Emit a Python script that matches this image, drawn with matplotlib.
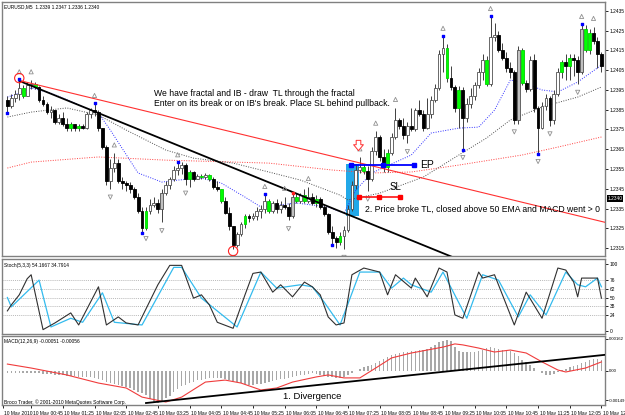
import numpy as np
import matplotlib
matplotlib.use("Agg")
import matplotlib.pyplot as plt
import matplotlib.transforms as mtransforms
from matplotlib.patches import Rectangle
from matplotlib.path import Path

plt.rcParams['font.family'] = ['Liberation Sans', 'DejaVu Sans']

# ==========================================
# DATA (EURUSD M5)
# ==========================================
first_open = 1.2390
closes = [1.2387, 1.2391, 1.2393, 1.2396, 1.2392, 1.23975, 1.2398, 1.23965, 1.2390, 1.2388,
          1.2384, 1.2385, 1.2379, 1.2381, 1.2378, 1.2376, 1.2378, 1.2376, 1.2377, 1.2376,
          1.2383, 1.2385, 1.2384, 1.2376, 1.2366, 1.2349, 1.23555, 1.2358, 1.2349, 1.2348,
          1.2347, 1.2345, 1.2341, 1.2334, 1.2325, 1.2334, 1.2337, 1.2338, 1.2335, 1.2343,
          1.2347, 1.2350, 1.23545, 1.23555, 1.2357, 1.2350, 1.23535, 1.2350, 1.23515, 1.2351,
          1.2352, 1.2350, 1.2346, 1.2345, 1.2339, 1.2333, 1.2326, 1.23165, 1.2322, 1.2327,
          1.2331, 1.2330, 1.2331, 1.2334, 1.2335, 1.2339, 1.2334, 1.2338, 1.2335, 1.2337,
          1.2336, 1.2331, 1.2341, 1.2339, 1.2342, 1.2339, 1.2341, 1.2338, 1.2340, 1.2336,
          1.2332, 1.2323, 1.2320, 1.2318, 1.2321, 1.2324, 1.2335, 1.2347, 1.23545, 1.2356,
          1.2354, 1.2350, 1.2364, 1.2371, 1.2361, 1.2356, 1.2363, 1.2371, 1.2380, 1.2377,
          1.2372, 1.2377, 1.2375, 1.2385, 1.2383, 1.2376, 1.2383, 1.2390, 1.2396, 1.2413,
          1.2416, 1.2401, 1.23965, 1.2386, 1.2395, 1.2381, 1.2388, 1.2392, 1.23975, 1.2404,
          1.2410, 1.2398, 1.2422, 1.2423, 1.2415, 1.2411, 1.2406, 1.2404, 1.2380, 1.2415,
          1.23985, 1.23955, 1.2410, 1.2386, 1.2376, 1.2387, 1.2391, 1.2380, 1.2393, 1.2404,
          1.2409, 1.2407, 1.2411, 1.2410, 1.2404, 1.2426, 1.2415, 1.2424, 1.2420, 1.2413, 1.2407]
highs = [1.2392, 1.2393, 1.2395, 1.2400, 1.23975, 1.2399, 1.2400, 1.2399, 1.2397, 1.2392,
         1.2389, 1.2387, 1.2385, 1.2383, 1.2384, 1.2381, 1.2379, 1.2378, 1.2378, 1.2378,
         1.2384, 1.2386, 1.2388, 1.2385, 1.2376, 1.2367, 1.2360, 1.2363, 1.2360, 1.2351,
         1.2349, 1.23485, 1.2346, 1.2343, 1.2336, 1.2336, 1.2340, 1.2341, 1.2340, 1.2345,
         1.2349, 1.2351, 1.23565, 1.2358, 1.23585, 1.2358, 1.23545, 1.2354, 1.23525, 1.23525,
         1.2353, 1.23525, 1.2351, 1.2349, 1.2345, 1.2341, 1.2336, 1.2326, 1.2323, 1.2328,
         1.2332, 1.2332, 1.2333, 1.2336, 1.2337, 1.2342, 1.2340, 1.2339, 1.2340, 1.2339,
         1.2341, 1.2338, 1.2343, 1.2343, 1.2343, 1.2345, 1.2346, 1.2343, 1.2342, 1.2341,
         1.2337, 1.2333, 1.2326, 1.2321, 1.2323, 1.2326, 1.2337, 1.2349, 1.23575, 1.2361,
         1.23575, 1.23565, 1.2366, 1.2374, 1.2372, 1.2365, 1.2365, 1.2373, 1.2386, 1.2381,
         1.2381, 1.2379, 1.2386, 1.2386, 1.2390, 1.2385, 1.2391, 1.2392, 1.2398, 1.2415,
         1.2422, 1.2418, 1.2407, 1.23975, 1.2397, 1.23965, 1.2391, 1.2396, 1.2399, 1.2406,
         1.2413, 1.2412, 1.2432, 1.2429, 1.2425, 1.2419, 1.2414, 1.2409, 1.2405, 1.2417,
         1.2416, 1.2400, 1.2412, 1.2413, 1.2387, 1.2389, 1.2393, 1.2392, 1.2395, 1.2406,
         1.2410, 1.2413, 1.2413, 1.2413, 1.2412, 1.2428, 1.2428, 1.2426, 1.2427, 1.2422, 1.2414]
lows = [1.2384, 1.2386, 1.2389, 1.2390, 1.2391, 1.2392, 1.23955, 1.23955, 1.2389, 1.2387,
        1.2383, 1.2381, 1.2378, 1.2378, 1.2377, 1.2374, 1.2374, 1.2374, 1.2374, 1.2375,
        1.2375, 1.2381, 1.2382, 1.2374, 1.2365, 1.2347, 1.2345, 1.23535, 1.2348, 1.2345,
        1.2344, 1.2343, 1.2340, 1.2333, 1.2323, 1.2324, 1.2332, 1.2336, 1.2333, 1.2328,
        1.2342, 1.2345, 1.2349, 1.2352, 1.23525, 1.2347, 1.2346, 1.2349, 1.2350, 1.2350,
        1.2350, 1.2349, 1.2345, 1.2344, 1.2338, 1.2332, 1.2324, 1.23145, 1.23155, 1.2321,
        1.2325, 1.2328, 1.2329, 1.2329, 1.2330, 1.2333, 1.2333, 1.2333, 1.2333, 1.2333,
        1.2335, 1.2329, 1.2330, 1.2338, 1.2338, 1.2338, 1.2338, 1.2337, 1.2336, 1.2335,
        1.2331, 1.2322, 1.2317, 1.2315, 1.23165, 1.23145, 1.2323, 1.2334, 1.2345, 1.2353,
        1.23525, 1.2344, 1.2349, 1.2362, 1.2359, 1.23535, 1.23535, 1.2362, 1.2370, 1.2375,
        1.2370, 1.2368, 1.2374, 1.2374, 1.2382, 1.2374, 1.2375, 1.2381, 1.2389, 1.2395,
        1.2404, 1.2399, 1.2395, 1.2384, 1.2376, 1.2365, 1.2379, 1.2386, 1.2390, 1.2396,
        1.2400, 1.2397, 1.2397, 1.2420, 1.2414, 1.2410, 1.2404, 1.2401, 1.2378, 1.2378,
        1.23975, 1.2394, 1.23945, 1.2384, 1.2363, 1.2375, 1.2385, 1.2377, 1.2378, 1.2392,
        1.2401, 1.2400, 1.2400, 1.2402, 1.2398, 1.2403, 1.2414, 1.2413, 1.2418, 1.2406, 1.2404]

green_bars = [4, 7, 16, 18, 35, 46, 49, 51, 54, 60, 66, 73, 75, 78, 84, 90, 96,
              111, 114, 121, 130, 140, 142, 146, 147]
gray_bars = [39, 72, 129, 145]

up_fractals = [3, 6, 22, 27, 43, 65, 70, 76, 89, 93, 98, 110, 122, 145, 148]
down_fractals = [26, 35, 39, 45, 57, 71, 85, 91, 101, 115, 128, 134, 137, 144]
dot_highs = [3, 22, 43, 65, 110, 122, 145]
dot_lows = [0, 34, 82, 115, 134]

# moving averages (sampled along the dotted lines)
ma_fast_idx = [0, 3, 6, 11, 23, 26, 33, 39, 43, 49, 54, 60, 64, 73, 81, 85, 88, 92, 102,
               107, 114, 119, 123, 127, 130, 135, 139, 144, 150]
ma_fast = [1.23914, 1.23934, 1.2396, 1.23934, 1.23833, 1.23747, 1.2353, 1.23484, 1.23494,
           1.23504, 1.23479, 1.23408, 1.23358, 1.23378, 1.23358, 1.23327, 1.23444, 1.2353,
           1.23621, 1.23732, 1.23757, 1.23762, 1.23848, 1.2400, 1.2399, 1.2395, 1.2394,
           1.2399, 1.24076]
ma_mid_idx = [0, 6, 15, 23, 30, 40, 47, 57, 66, 74, 84, 86, 94, 105, 114, 121, 127, 135, 144, 150]
ma_mid = [1.23813, 1.23838, 1.23859, 1.23823, 1.23747, 1.23646, 1.23605, 1.2358, 1.23535,
          1.23494, 1.23418, 1.23393, 1.23428, 1.23509, 1.23621, 1.23707, 1.23798, 1.23864,
          1.23914, 1.23965]
ma_slow_idx = [0, 6, 23, 40, 66, 82, 92, 102, 114, 130, 139, 150]
ma_slow = [1.23555, 1.23585, 1.23611, 1.23595, 1.2358, 1.23545, 1.2353, 1.23535, 1.2357,
           1.23621, 1.23661, 1.23712]

# drawn objects
tl_black_x, tl_black_y = [3, 118], [1.23996, 1.23059]
tl_red_x, tl_red_y = [3, 151], [1.23998, 1.23280]
box_x, box_y = [85.6, 88.9], [1.23312, 1.23575]
ep_x, ep_price = [86.8, 94.9, 102.7], 1.2357
sl_x, sl_price = [88.8, 93.8, 99.1], 1.2341
arrow_x, arrow_price = 88.5, 1.2367

price_ticks = [1.2435, 1.2425, 1.2415, 1.2405, 1.2395, 1.2385, 1.2375, 1.2365,
               1.2355, 1.2345, 1.2335, 1.2325, 1.2315]
last_price = 1.2340

# stochastic
stoch_k_idx = [0, 1, 3, 5, 6, 9, 12, 16, 18, 23, 25, 28, 30, 33, 38, 41, 44, 47, 49, 51,
               53, 57, 60, 62, 64, 67, 69, 72, 75, 77, 79, 81, 83, 85, 87, 90, 92, 94, 96,
               98, 102, 103, 106, 109, 111, 113, 115, 119, 120, 123, 128, 131, 135, 139,
               141, 143, 144, 145, 147, 149, 150]
stoch_k = [30, 39, 54, 78, 84, 2, 12, 27, 9, 66, 9, 21, 12, 9, 69, 98, 98, 49, 54, 39,
           13, 4, 54, 86, 88, 58, 69, 51, 73, 66, 54, 21, 9, 12, 84, 94, 91, 88, 54,
           84, 64, 79, 51, 94, 88, 24, 19, 88, 79, 84, 9, 58, 19, 94,
           91, 73, 51, 79, 79, 79, 49]
stoch_d_idx = [0, 1, 8, 11, 16, 19, 24, 27, 34, 42, 44, 49, 58, 64, 68, 74, 77, 80, 84, 89,
               94, 97, 100, 102, 107, 110, 116, 120, 124, 129, 132, 136, 141, 144, 146, 149, 150]
stoch_d = [50, 36, 76, 6, 19, 13, 57, 13, 9, 95, 95, 49, 6, 88, 64, 69, 66, 43, 9, 88,
           88, 64, 79, 69, 58, 88, 19, 84, 76, 21, 54, 24, 88, 69, 66, 79, 66]
stoch_levels = [24, 38, 50, 62, 76]
stoch_ticks = [0, 24, 38, 50, 62, 76, 100]

# MACD (units of 1e-5)
macd_hist = [-8, -9, -10, -10, -11, -11, -12, -12, -12, -13,
             -14, -16, -18, -20, -22, -24, -26, -27, -28, -29, -30, -31,
             -34, -38, -45, -55, -62, -66, -70, -74,
             -80, -88, -96, -104, -112, -120, -140,
             -158, -160, -150,
             -138, -125, -108, -92, -78,
             -70, -62, -55, -48, -44,
             -40, -37, -35, -34, -36,
             -40, -44, -50, -56, -63,
             -68, -70, -71, -68, -64,
             -60, -56, -50, -46, -42,
             -38, -33, -28, -25, -22,
             -18, -14, -12, -15, -20,
             -24, -28, -32, -35, -34,
             -30, -22, -12, -2, 10,
             18, 25, 32, 40, 50,
             62, 72, 82, 88, 92,
             95, 97, 100, 103, 106,
             108, 112, 120, 132, 145,
             152, 157, 150, 120, 100,
             96, 95, 94, 96, 100,
             108, 115, 121, 118, 112,
             108, 105, 100, 90, 75,
             58, 45, 30, 15, 2,
             -10, -18, -20, -15, -5,
             5, 12, 20, 26, 32,
             40, 48, 56, 62, 60, 56]
macd_sig_idx = [0, 6, 15, 23, 30, 34, 40, 44, 50, 55, 59, 64, 68, 72, 78, 81, 85, 89, 93,
                97, 102, 106, 110, 113, 115, 119, 123, 127, 131, 135, 139, 141, 146, 150]
macd_sig = [35, 15, -20, -61, -86, -132, -157, -132, -56, -46, -61, -96, -86, -56, -30,
            -20, -35, -35, 15, 66, 91, 106, 121, 137, 132, 116, 96, 106, 91, 46, 5, -5, 15, 46]
div_x, div_y = [35, 151], [-162, 82]
macd_ticks = [162, 0, -149]
macd_tick_labels = ['0.00162', '0.00', '-0.00149']

time_idx = [6, 14, 22, 30, 38, 46, 54, 62, 70, 78, 86, 94, 102, 110, 118, 126, 134, 142, 150]
time_labels = ['10 May 00:45', '10 May 01:25', '10 May 02:05', '10 May 02:45', '10 May 03:25',
               '10 May 04:05', '10 May 04:45', '10 May 05:25', '10 May 06:05', '10 May 06:45',
               '10 May 07:25', '10 May 08:05', '10 May 08:45', '10 May 09:25', '10 May 10:05',
               '10 May 10:45', '10 May 11:25', '10 May 12:05', '10 May 12:45']

# ==========================================
# FIGURE / PANELS
# ==========================================
W, H = 625, 415
fig = plt.figure(figsize=(W / 100, H / 100), dpi=100)
fig.patch.set_facecolor('white')


def px_axes(x0, y0, x1, y1):
    return fig.add_axes([x0 / W, 1 - y1 / H, (x1 - x0) / W, (y1 - y0) / H])


ax = px_axes(2, 2, 605, 256)
ax_st = px_axes(2, 259, 605, 334)
ax_m = px_axes(2, 336, 605, 405)
XLIM = (-1.36, 150.9)
TICK_FS = 3.5

for a in (ax, ax_st, ax_m):
    a.set_xlim(*XLIM)
    for s in a.spines.values():
        s.set_color('#808080')
        s.set_linewidth(1.0)
    a.yaxis.tick_right()
    a.tick_params(axis='y', labelsize=TICK_FS, length=2, pad=1.2, width=0.6, colors='black')
    a.tick_params(axis='x', bottom=False, labelbottom=False)

# ==========================================
# MAIN PRICE PANEL
# ==========================================
closes = np.array(closes)
xs = np.arange(len(closes))
opens = np.r_[first_open, closes[:-1]]
body_lo = np.minimum(opens, closes)
body_hi = np.maximum(opens, closes)
highs = np.maximum(np.array(highs), body_hi)
lows = np.minimum(np.array(lows), body_lo)

faces, edges = [], []
for i in xs:
    if i in green_bars:
        faces.append('#00ff00'); edges.append('#00d000')
    elif closes[i] < opens[i]:
        faces.append('#000000'); edges.append('#000000')
    elif i in gray_bars:
        faces.append('#c0c0c0'); edges.append('#505050')
    else:
        faces.append('#ffffff'); edges.append('#505050')

ax.add_patch(Rectangle((box_x[0], box_y[0]), box_x[1] - box_x[0], box_y[1] - box_y[0],
                       facecolor='#22a8e8', edgecolor='none', zorder=1))

ax.plot(ma_slow_idx, ma_slow, color='#ff4040', lw=0.7, ls=(0, (1, 1.5)), zorder=2)
ax.plot(ma_mid_idx, ma_mid, color='#505050', lw=0.7, ls=(0, (1, 1.5)), zorder=2)
ax.plot(ma_fast_idx, ma_fast, color='#3030ff', lw=0.7, ls=(0, (1, 1.5)), zorder=2)

ax.vlines(xs, lows, highs, colors='#404040', lw=0.7, zorder=3)
ax.bar(xs, np.maximum(body_hi - body_lo, 0.00003), bottom=body_lo, width=0.72,
       color=faces, edgecolor=edges, linewidth=0.6, zorder=4)

ax.plot(tl_black_x, tl_black_y, color='black', lw=1.3, zorder=5)
ax.plot(tl_red_x, tl_red_y, color='#ff3030', lw=0.8, zorder=5)

ax.scatter(up_fractals, highs[up_fractals] + 0.00042, marker='^', s=9,
           facecolors='none', edgecolors='#909090', linewidths=0.6, zorder=6)
ax.scatter(down_fractals, lows[down_fractals] - 0.00042, marker='v', s=9,
           facecolors='none', edgecolors='#909090', linewidths=0.6, zorder=6)
ax.scatter(dot_highs, highs[dot_highs] + 0.00005, marker='s', s=4, color='#0000ff', zorder=7)
ax.scatter(dot_lows, lows[dot_lows] - 0.00005, marker='s', s=4, color='#0000ff', zorder=7)
ax.scatter([3], [highs[3] + 0.0001], s=45, facecolors='none', edgecolors='#ff2020',
           linewidths=0.8, zorder=7)
ax.scatter([57], [lows[57] - 0.0001], s=45, facecolors='none', edgecolors='#ff2020',
           linewidths=0.8, zorder=7)
ax.scatter([72], [highs[72]], marker='s', s=4, color='#ff2020', zorder=7)

# hollow down arrow above the breakout bar
arrow_path = Path([(-0.45, 1.0), (0.45, 1.0), (0.45, 0.15), (0.95, 0.15), (0.0, -1.0),
                   (-0.95, 0.15), (-0.45, 0.15), (-0.45, 1.0)], closed=True)
ax.scatter([arrow_x], [arrow_price], marker=arrow_path, s=55, facecolors='white',
           edgecolors='#ff3030', linewidths=0.7, zorder=8)

ax.plot(ep_x, [ep_price] * 3, color='#0000ff', lw=1.3, marker='s', ms=2.2, zorder=6)
ax.plot(sl_x, [sl_price] * 3, color='#ff0000', lw=1.1, marker='s', ms=2.2, zorder=6)

ax.text(104.2, ep_price, 'EP', fontsize=7.5, va='center', ha='left', zorder=8)
ax.text(96.6, 1.23459, 'SL', fontsize=7, va='center', ha='left', zorder=8)
ax.text(90.3, 1.23347, '2. Price broke TL, closed above 50 EMA and MACD went > 0',
        fontsize=6.2, va='center', ha='left', zorder=8)
ax.text(37, 1.23934, 'We have fractal and IB - draw  TL through the fractal',
        fontsize=6.2, va='center', ha='left', zorder=8)
ax.text(37, 1.23884, "Enter on its break or on IB's break. Place SL behind pullback.",
        fontsize=6.2, va='center', ha='left', zorder=8)

ax.set_ylim(1.2311, 1.24395)
ax.set_yticks(price_ticks)
ax.set_yticklabels([f'{p:.4f}' for p in price_ticks])
tr = mtransforms.blended_transform_factory(ax.transAxes, ax.transData)
ax.text(1.004, last_price, f'{last_price:.4f}', transform=tr, color='white', fontsize=TICK_FS,
        va='center', ha='left', bbox=dict(facecolor='black', edgecolor='none', pad=0.6),
        zorder=9, clip_on=False)

fig.text(4 / W, 1 - 7 / H, 'EURUSD,M5  1.2339 1.2347 1.2336 1.2340', fontsize=TICK_FS,
         va='center', ha='left')

# ==========================================
# STOCHASTIC PANEL
# ==========================================
for lv in stoch_levels:
    ax_st.axhline(lv, color='#a0a0a0', lw=0.5, ls=(0, (1.5, 1.5)), zorder=1)
ax_st.plot(stoch_d_idx, stoch_d, color='#33bbee', lw=0.9, zorder=2)
ax_st.plot(stoch_k_idx, stoch_k, color='#303030', lw=0.8, zorder=3)
ax_st.set_ylim(-4.5, 107.5)
ax_st.set_yticks(stoch_ticks)
ax_st.set_yticklabels([str(t) for t in stoch_ticks])
fig.text(4 / W, 1 - 265 / H, 'Stoch(5,3,3) 54.1667 34.7914', fontsize=TICK_FS,
         va='center', ha='left')

# ==========================================
# MACD PANEL
# ==========================================
ax_m.bar(xs, macd_hist, width=0.38, color='#a8a8a8', edgecolor='none', zorder=1)
ax_m.plot(macd_sig_idx, macd_sig, color='#f03c3c', lw=0.8, zorder=2)
ax_m.plot(div_x, div_y, color='black', lw=1.3, zorder=3)
ax_m.set_ylim(-172, 177)
ax_m.set_yticks(macd_ticks)
ax_m.set_yticklabels(macd_tick_labels)
ax_m.tick_params(axis='y', labelsize=3.1, pad=1.0)
ax_m.text(69.5, -128, '1. Divergence', fontsize=6.8, va='center', ha='left', zorder=4)
fig.text(4 / W, 1 - 341 / H, 'MACD(12,26,9) -0.00051 -0.00056', fontsize=TICK_FS,
         va='center', ha='left')
fig.text(4 / W, 1 - 402 / H, 'Broco Trader, \u00a9 2001-2010 MetaQuotes Software Corp.',
         fontsize=TICK_FS, va='center', ha='left')

# time axis
ax_m.tick_params(axis='x', bottom=True, labelbottom=True, length=2.5, width=0.6,
                 labelsize=TICK_FS, pad=1.5, colors='black')
ax_m.set_xticks([-1.2] + time_idx)
ax_m.set_xticklabels(['10 May 2010'] + time_labels, ha='left')
offset = mtransforms.ScaledTranslation(1.5 / 100, 0, fig.dpi_scale_trans)
for lbl in ax_m.get_xticklabels():
    lbl.set_transform(lbl.get_transform() + offset)
ax_m.set_xlim(*XLIM)

fig.savefig('out.png', dpi=100, facecolor='white')
